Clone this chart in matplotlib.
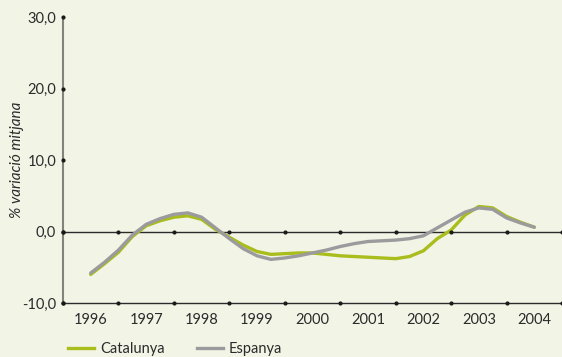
import numpy as np
import matplotlib
matplotlib.use('Agg')
import matplotlib.pyplot as plt
from matplotlib.lines import Line2D

# years shown on the x axis
years = ['1996', '1997', '1998', '1999', '2000', '2001', '2002', '2003', '2004']

# quarterly readings (1996.00 ... 2004.00), % average variation
quarters = [1996 + q / 4 for q in range(33)]
catalunya = [-6.0, -4.5, -2.9, -0.7, 0.8, 1.5, 2.0, 2.2, 1.7, 0.3, -0.8, -1.9,
             -2.8, -3.2, -3.1, -3.0, -3.0, -3.2, -3.4, -3.5, -3.6, -3.7, -3.8, -3.5,
             -2.7, -1.0, 0.2, 2.3, 3.5, 3.3, 2.1, 1.3, 0.6]
espanya = [-5.8, -4.3, -2.6, -0.5, 1.0, 1.8, 2.4, 2.6, 2.0, 0.5, -1.0, -2.4,
           -3.4, -3.9, -3.7, -3.4, -3.0, -2.6, -2.1, -1.7, -1.4, -1.3, -1.2, -1.0,
           -0.6, 0.5, 1.6, 2.7, 3.3, 3.1, 1.9, 1.2, 0.6]

yticks = [-10, 0, 10, 20, 30]

bg = '#f2f4e6'
green = '#a9bd1c'
grey = '#9b9b9e'
dark = '#2b2b2b'
fs = 10.5

plt.rcParams['font.family'] = ['Lato', 'DejaVu Sans']

fig = plt.figure(figsize=(5.62, 3.57), dpi=100, facecolor=bg)
ax = fig.add_axes([63 / 562, 1 - 303 / 357, 499 / 562, 286 / 357])
ax.set_facecolor(bg)

x = np.array(quarters) - 1996
ax.plot(x, catalunya, color=green, lw=2.4, solid_capstyle='round', solid_joinstyle='round', zorder=3)
ax.plot(x, espanya, color=grey, lw=2.4, solid_capstyle='round', solid_joinstyle='round', zorder=4)

ax.set_xlim(-0.5, len(years) - 0.5)
ax.set_ylim(-10, 30)

# horizontal reference lines with dots between categories
for yv in [0, -10]:
    ax.axhline(yv, color=dark, lw=1.0, zorder=2, clip_on=False)
    dots = np.arange(-0.5, len(years), 1.0)
    ax.plot(dots, [yv] * len(dots), 'o', color='#1a1a1a', ms=2.0, zorder=5, clip_on=False)

# left axis dots
ax.plot([-0.5] * len(yticks), yticks, 'o', color='#1a1a1a', ms=2.0, zorder=5, clip_on=False)

for s in ['top', 'right', 'bottom']:
    ax.spines[s].set_visible(False)
ax.spines['left'].set_color('#82837b')
ax.spines['left'].set_linewidth(1.5)
ax.spines['left'].set_zorder(1)

ax.set_xticks(range(len(years)))
ax.set_xticklabels(years, fontsize=fs, color=dark)
ax.set_yticks(yticks)
ax.set_yticklabels([f'{v:.1f}'.replace('.', ',') for v in yticks], fontsize=fs, color=dark)
ax.tick_params(axis='both', length=0)
ax.tick_params(axis='x', pad=7)
ax.tick_params(axis='y', pad=5)

fig.text(17 / 562, 1 - 160 / 357, '% variació mitjana', rotation=90, fontsize=11,
         style='italic', color=dark, ha='center', va='center')

handles = [Line2D([], [], color=green, lw=2.4), Line2D([], [], color=grey, lw=2.4)]
fig.legend(handles, ['Catalunya', 'Espanya'], ncol=2, frameon=False,
           loc='center left', bbox_to_anchor=(55 / 562, 1 - 349 / 357),
           fontsize=fs, handlelength=1.8, handletextpad=0.4, columnspacing=2.2,
           labelcolor=dark)

fig.savefig('out.png', dpi=100, facecolor=bg)
